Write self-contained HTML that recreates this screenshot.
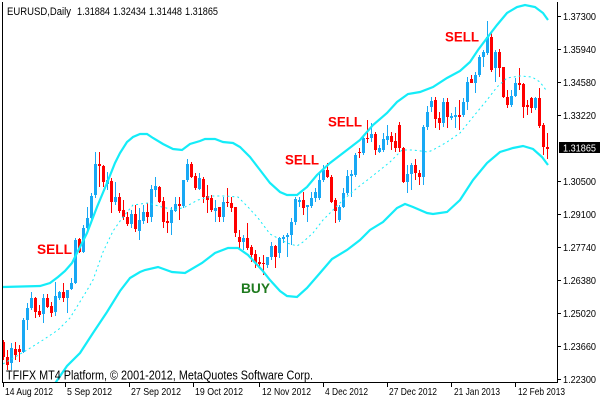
<!DOCTYPE html>
<html><head><meta charset="utf-8">
<style>
html,body{margin:0;padding:0;background:#fff;width:600px;height:400px;overflow:hidden}
svg{display:block}
text{font-family:"Liberation Sans",sans-serif}
</style></head><body>
<svg id="c" width="600" height="400" viewBox="0 0 600 400" xmlns="http://www.w3.org/2000/svg">
<rect width="600" height="400" fill="#fff"/>
<defs><clipPath id="pa"><rect x="3" y="2" width="554" height="380"/></clipPath></defs>
<g id="candles" clip-path="url(#pa)" shape-rendering="crispEdges"></g>
<g clip-path="url(#pa)" fill="none" stroke="#14ECF8">
<polyline stroke-width="2.2" points="2,287 40,286 50,283 58,277 65,271 72,263 80,247 87,233 97,207 107,183 115,163 120,153 127,142 133,137 140,134 147,134 153,138 163,144 173,149 182,150 190,144 200,141 205,139 215,139 223,142 233,143 240,147 250,157 260,170 270,183 280,192 287,195 297,195 307,187 317,175 330,163 347,150 360,140 373,125 387,113 397,102 408,94 420,92 433,87 447,78 460,71 470,62 478,50 487,38 497,25 507,13 517,7 525,5 535,7 543,13 548,20"/>
<polyline stroke-width="2.2" points="50,390 56,382 67,366 80,353 93,333 107,312 120,291 130,278 140,272 145,270 158,267 172,272 185,273 202,263 215,253 228,248 238,248 248,255 262,270 270,280 280,291 287,296 297,297 307,288 320,273 332,259 347,250 360,240 370,230 383,222 397,208 405,204 413,207 427,213 433,214 447,212 460,200 473,180 487,163 500,152 513,148 523,146 533,149 542,157 548,165"/>
<polyline stroke-width="1" stroke-dasharray="2 3" points="3,364 15,357 27,350 43,340 58,330 70,318 78,305 86,292 93,280 103,252 113,231 123,217 133,205 148,203 162,207 175,210 185,207 198,200 212,196 225,196 238,197 248,207 258,218 270,234 287,243 297,246 303,242 313,233 323,220 333,210 343,200 357,188 370,178 390,162 402,150 413,150 428,152 433,150 447,142 460,133 473,117 487,100 497,87 507,78 520,76 532,77 540,82 546,90"/>
</g>
<!-- frame -->
<g shape-rendering="crispEdges" stroke="#000" stroke-width="1">
<line x1="2.5" y1="2" x2="2.5" y2="383"/>
<line x1="557.5" y1="2" x2="557.5" y2="383"/>
<line x1="2" y1="382.5" x2="558" y2="382.5"/>
<line x1="558" y1="16.5" x2="561" y2="16.5"/>
<line x1="558" y1="49.5" x2="561" y2="49.5"/>
<line x1="558" y1="82.5" x2="561" y2="82.5"/>
<line x1="558" y1="115.5" x2="561" y2="115.5"/>
<line x1="558" y1="181.5" x2="561" y2="181.5"/>
<line x1="558" y1="214.5" x2="561" y2="214.5"/>
<line x1="558" y1="247.5" x2="561" y2="247.5"/>
<line x1="558" y1="280.5" x2="561" y2="280.5"/>
<line x1="558" y1="313.5" x2="561" y2="313.5"/>
<line x1="558" y1="346.5" x2="561" y2="346.5"/>
<line x1="558" y1="379.5" x2="561" y2="379.5"/>
<line x1="3.5" y1="383" x2="3.5" y2="387"/>
<line x1="65.5" y1="383" x2="65.5" y2="387"/>
<line x1="129.5" y1="383" x2="129.5" y2="387"/>
<line x1="193.5" y1="383" x2="193.5" y2="387"/>
<line x1="259.5" y1="383" x2="259.5" y2="387"/>
<line x1="323.5" y1="383" x2="323.5" y2="387"/>
<line x1="387.5" y1="383" x2="387.5" y2="387"/>
<line x1="451.5" y1="383" x2="451.5" y2="387"/>
<line x1="515.5" y1="383" x2="515.5" y2="387"/>
</g>
<!-- y labels -->
<g font-size="10.5" fill="#000">
<text x="563" y="20" textLength="33" lengthAdjust="spacingAndGlyphs">1.37300</text>
<text x="563" y="53" textLength="33" lengthAdjust="spacingAndGlyphs">1.35940</text>
<text x="563" y="86" textLength="33" lengthAdjust="spacingAndGlyphs">1.34580</text>
<text x="563" y="119" textLength="33" lengthAdjust="spacingAndGlyphs">1.33220</text>
<text x="563" y="185" textLength="33" lengthAdjust="spacingAndGlyphs">1.30500</text>
<text x="563" y="218" textLength="33" lengthAdjust="spacingAndGlyphs">1.29100</text>
<text x="563" y="251" textLength="33" lengthAdjust="spacingAndGlyphs">1.27740</text>
<text x="563" y="284" textLength="33" lengthAdjust="spacingAndGlyphs">1.26380</text>
<text x="563" y="317" textLength="33" lengthAdjust="spacingAndGlyphs">1.25020</text>
<text x="563" y="350" textLength="33" lengthAdjust="spacingAndGlyphs">1.23660</text>
<text x="563" y="383" textLength="33" lengthAdjust="spacingAndGlyphs">1.22300</text>
</g>
<rect x="559" y="142" width="41" height="11" fill="#000"/>
<text x="563" y="151.5" font-size="10.5" fill="#fff" textLength="33" lengthAdjust="spacingAndGlyphs">1.31865</text>
<!-- x labels -->
<g font-size="10.5" fill="#000">
<text x="5" y="395" textLength="48" lengthAdjust="spacingAndGlyphs">14 Aug 2012</text>
<text x="67" y="395" textLength="45" lengthAdjust="spacingAndGlyphs">5 Sep 2012</text>
<text x="131" y="395" textLength="50" lengthAdjust="spacingAndGlyphs">27 Sep 2012</text>
<text x="195" y="395" textLength="48" lengthAdjust="spacingAndGlyphs">19 Oct 2012</text>
<text x="262" y="395" textLength="49" lengthAdjust="spacingAndGlyphs">12 Nov 2012</text>
<text x="325" y="395" textLength="43" lengthAdjust="spacingAndGlyphs">4 Dec 2012</text>
<text x="389" y="395" textLength="48" lengthAdjust="spacingAndGlyphs">27 Dec 2012</text>
<text x="454" y="395" textLength="46" lengthAdjust="spacingAndGlyphs">21 Jan 2013</text>
<text x="518" y="395" textLength="47" lengthAdjust="spacingAndGlyphs">12 Feb 2013</text>
</g>
<!-- title -->
<g font-size="11" fill="#000">
<text x="7" y="15" textLength="64" lengthAdjust="spacingAndGlyphs">EURUSD,Daily</text>
<text x="77" y="15" textLength="33" lengthAdjust="spacingAndGlyphs">1.31884</text>
<text x="113" y="15" textLength="33" lengthAdjust="spacingAndGlyphs">1.32434</text>
<text x="149" y="15" textLength="33" lengthAdjust="spacingAndGlyphs">1.31448</text>
<text x="185" y="15" textLength="33" lengthAdjust="spacingAndGlyphs">1.31865</text>
</g>
<text x="6" y="379.5" font-size="12.5" fill="#000" textLength="307" lengthAdjust="spacingAndGlyphs">TFIFX MT4 Platform, © 2001-2012, MetaQuotes Software Corp.</text>
<!-- signals -->
<g font-size="14" font-weight="bold" fill="#FF0000">
<text x="37" y="254" textLength="35" lengthAdjust="spacingAndGlyphs">SELL</text>
<text x="285" y="164.5" textLength="34" lengthAdjust="spacingAndGlyphs">SELL</text>
<text x="328" y="126.5" textLength="34" lengthAdjust="spacingAndGlyphs">SELL</text>
<text x="445" y="41.5" textLength="34" lengthAdjust="spacingAndGlyphs">SELL</text>
</g>
<text x="241" y="293" font-size="14" font-weight="bold" fill="#1E7A1E" textLength="29" lengthAdjust="spacingAndGlyphs">BUY</text>
</svg>
<script>
var D=[
[0,342,357,340,360],[0,357,365,350,370],[1,348,363,343,370],[0,349,355,342,360],[0,349,352,345,362],
[1,320,352,318,353],[1,308,320,303,330],[1,298,308,292,310],[0,298,312,297,318],[0,311,315,305,317],
[1,298,314,294,323],[0,298,307,294,308],[0,306,313,302,317],[1,296,312,282,316],[1,292,298,291,300],
[0,292,298,283,302],[1,290,298,290,313],[1,283,289,278,290],[1,240,283,238,284],[0,239,252,238,253],
[1,228,252,225,253],[1,218,228,207,230],[1,196,218,193,220],[1,164,195,152,198],[0,164,166,152,187],
[0,166,182,165,187],[1,180,184,172,190],[0,181,202,178,213],[1,197,202,182,205],[0,197,211,193,213],
[0,210,217,200,220],[0,217,224,212,226],[1,214,224,210,228],[0,214,229,205,232],[1,220,231,208,240],
[1,212,221,205,224],[0,212,217,203,223],[1,189,217,185,222],[1,186,190,177,197],[0,187,202,186,203],
[0,201,222,197,228],[0,221,223,212,233],[1,210,223,207,235],[1,204,211,197,212],[0,204,206,197,220],
[1,180,206,180,208],[1,164,180,159,182],[0,164,177,162,178],[0,176,188,173,190],[1,178,189,173,190],
[0,179,197,177,203],[0,196,200,185,213],[0,198,210,195,212],[1,208,211,200,222],[0,207,217,207,222],
[1,202,217,197,222],[0,202,203,188,207],[0,203,208,197,212],[0,207,233,207,237],[0,237,242,230,250],
[1,238,242,235,250],[0,238,248,223,250],[0,247,255,245,262],[0,254,263,250,268],[0,262,264,257,268],
[0,263,264,255,275],[1,257,265,257,268],[1,246,257,242,260],[0,246,257,245,268],[1,238,253,237,258],
[1,237,239,235,243],[1,235,237,233,257],[1,222,235,218,245],[1,199,222,197,225],[1,200,202,197,207],
[0,200,208,192,215],[1,205,207,205,222],[1,198,206,192,208],[1,192,198,188,202],[1,180,198,173,200],
[1,170,180,165,182],[0,170,177,163,178],[0,177,202,175,203],[0,200,211,198,223],[1,207,220,205,222],
[1,193,207,188,208],[1,176,193,170,195],[1,174,176,170,197],[1,155,175,153,177],[0,152,153,148,158],
[1,138,153,135,155],[0,138,139,120,143],[1,134,138,123,142],[0,134,150,132,155],[1,148,152,145,153],
[1,139,150,133,152],[1,136,140,125,145],[0,136,142,132,150],[0,141,148,133,152],[0,125,148,122,152],
[0,148,182,147,183],[1,174,182,165,193],[1,165,174,163,190],[0,165,173,159,180],[0,173,177,170,185],
[1,127,177,125,185],[1,112,127,106,130],[1,101,107,97,112],[0,100,119,97,128],[0,118,123,112,130],
[1,102,123,98,127],[0,102,117,98,128],[1,116,118,113,120],[1,115,117,107,128],[0,115,117,100,130],
[1,102,115,98,117],[1,82,102,77,110],[0,79,83,75,83],[1,75,83,72,93],[1,57,75,55,77],
[1,52,57,50,67],[1,37,53,21,55],[0,37,70,33,72],[1,52,68,50,82],[0,52,68,49,77],
[0,67,97,67,98],[0,97,105,90,108],[1,96,105,90,107],[1,83,96,78,97],[0,83,85,68,90],
[0,84,107,83,118],[0,105,107,100,115],[0,98,108,97,113],[1,98,108,97,110],[0,98,126,88,128],
[0,125,147,123,155],[0,147,149,133,159]
];
var g=document.getElementById('candles'),ns='http://www.w3.org/2000/svg';
function R(x,y,w,h,c){var r=document.createElementNS(ns,'rect');r.setAttribute('x',x);r.setAttribute('y',y);r.setAttribute('width',w);r.setAttribute('height',h);r.setAttribute('fill',c);g.appendChild(r);}
for(var i=0;i<D.length;i++){var d=D[i],x=3+4*i,c=d[0]?'#18A8F4':'#FF0000';
R(x,d[3],1,Math.max(1,d[4]-d[3]),c);
R(x-1,d[1],3,Math.max(1,d[2]-d[1]),c);}
</script>
</body></html>
